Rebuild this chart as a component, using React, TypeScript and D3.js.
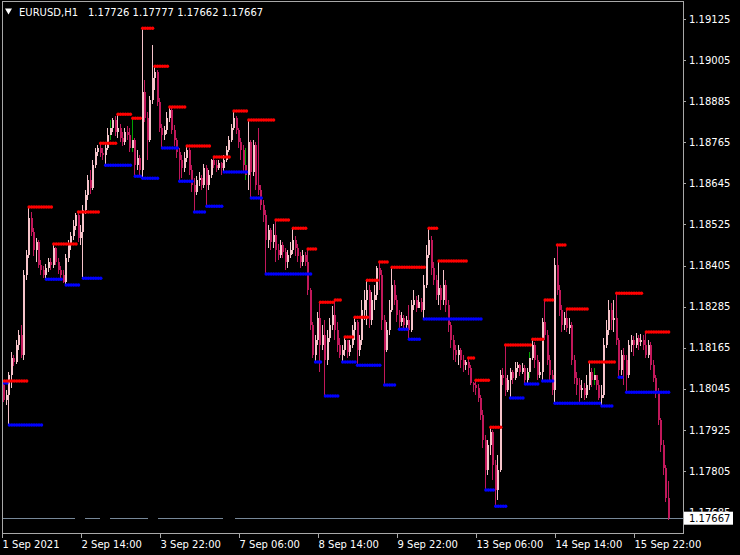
import React from "react";
import * as d3 from "d3";

// EURUSD H1 candles, 1 Sep 07:00 .. 16 Sep 12:00 (270 bars); open = previous close
const SYMBOL = "EURUSD,H1";
const LAST_OHLC = ["1.17726", "1.17777", "1.17662", "1.17667"];
const FIRST_OPEN = 1.18056;
const BID = 1.17667;

const closes = [
  1.18012, 1.18027, 1.18085, 1.18135, 1.18123, 1.18173, 1.18202, 1.18143, 1.18377, 1.18435,
  1.18543, 1.18503, 1.1845, 1.18473, 1.18406, 1.18392, 1.18377, 1.18397, 1.18415, 1.18406,
  1.18456, 1.18415, 1.18392, 1.18377, 1.18357, 1.18427, 1.18465, 1.18491, 1.1852, 1.18552,
  1.18485, 1.18503, 1.18567, 1.18611, 1.18654, 1.18631, 1.18698, 1.18736, 1.18748, 1.18733,
  1.18727, 1.18748, 1.18786, 1.18806, 1.1883, 1.18795, 1.18806, 1.18777, 1.18765, 1.18795,
  1.18786, 1.18748, 1.18771, 1.18698, 1.18719, 1.18684, 1.18911, 1.18835, 1.18771, 1.18888,
  1.18952, 1.1897, 1.18882, 1.18806, 1.18786, 1.188, 1.18835, 1.18859, 1.188, 1.18771,
  1.18736, 1.18713, 1.18689, 1.18719, 1.18742, 1.18684, 1.1864, 1.18619, 1.18654, 1.1866,
  1.1864, 1.18689, 1.1864, 1.18669, 1.18713, 1.18698, 1.18689, 1.18704, 1.18689, 1.18713,
  1.18742, 1.18771, 1.18806, 1.18835, 1.188, 1.18765, 1.18742, 1.18698, 1.18669, 1.18765,
  1.18678, 1.18757, 1.1864, 1.18625, 1.18581, 1.18552, 1.18479, 1.18508, 1.18473, 1.18494,
  1.1845, 1.18435, 1.18465, 1.18444, 1.18415, 1.18435, 1.1845, 1.18479, 1.18456, 1.18433,
  1.18415, 1.18435, 1.18415, 1.18333, 1.18231, 1.18143, 1.18187, 1.18251, 1.18173, 1.18202,
  1.18129, 1.18193, 1.18231, 1.1826, 1.18216, 1.18173, 1.18143, 1.18158, 1.18187, 1.18152,
  1.18173, 1.18216, 1.1824, 1.18158, 1.18187, 1.18275, 1.18304, 1.18333, 1.18246, 1.18304,
  1.18319, 1.18397, 1.18377, 1.18246, 1.18158, 1.18216, 1.18275, 1.18348, 1.18304, 1.1826,
  1.1824, 1.18251, 1.18231, 1.18246, 1.18216, 1.18289, 1.18304, 1.18281, 1.18298, 1.18275,
  1.18348, 1.18435, 1.18479, 1.18397, 1.18362, 1.18319, 1.18339, 1.18304, 1.18348, 1.18289,
  1.18231, 1.18187, 1.18158, 1.18143, 1.18158, 1.18129, 1.18114, 1.18123, 1.18105, 1.18062,
  1.18056, 1.18047, 1.18018, 1.17968, 1.17895, 1.17808, 1.17881, 1.17919, 1.17822, 1.17749,
  1.17808, 1.18085, 1.18076, 1.18041, 1.1807, 1.18094, 1.18076, 1.18105, 1.18114, 1.18094,
  1.18105, 1.1807, 1.18094, 1.18135, 1.18173, 1.18129, 1.18085, 1.18094, 1.1824, 1.18202,
  1.18129, 1.18085, 1.18041, 1.18406, 1.18333, 1.18275, 1.18231, 1.18251, 1.18222, 1.18231,
  1.18129, 1.18076, 1.18056, 1.18041, 1.18047, 1.18027, 1.18056, 1.18094, 1.1807, 1.18085,
  1.18056, 1.18018, 1.18027, 1.18173, 1.18216, 1.18275, 1.18246, 1.18251, 1.18187, 1.181,
  1.18143, 1.18129, 1.18085, 1.18173, 1.18187, 1.18173, 1.18193, 1.18181, 1.18187, 1.18173,
  1.18143, 1.18173, 1.18114, 1.18076, 1.18035, 1.17954, 1.17881, 1.17813, 1.17726, 1.17667,
];

const highs = [
  1.18068, 1.18041, 1.18094, 1.18152, 1.18143, 1.18187, 1.18216, 1.18231, 1.18392, 1.1845,
  1.18576, 1.18561, 1.18514, 1.18485, 1.18479, 1.18421, 1.18403, 1.18409, 1.18427, 1.18427,
  1.18468, 1.1846, 1.18427, 1.18403, 1.18392, 1.18438, 1.18479, 1.18503, 1.18538, 1.18558,
  1.18561, 1.18523, 1.18581, 1.18625, 1.18669, 1.18684, 1.18713, 1.18748, 1.18757, 1.18762,
  1.18748, 1.1876, 1.18806, 1.1883, 1.18835, 1.18841, 1.18847, 1.18818, 1.18795, 1.18806,
  1.18812, 1.18806, 1.18835, 1.18777, 1.18742, 1.18727, 1.19098, 1.18946, 1.18853, 1.189,
  1.19049, 1.18987, 1.18976, 1.18894, 1.18818, 1.18812, 1.18853, 1.18868, 1.18865, 1.18815,
  1.18777, 1.18748, 1.18727, 1.18736, 1.18754, 1.18748, 1.18698, 1.1866, 1.18666, 1.18678,
  1.18669, 1.18701, 1.18698, 1.18684, 1.18716, 1.18722, 1.18713, 1.18713, 1.18707, 1.18727,
  1.18754, 1.18783, 1.18818, 1.18856, 1.18841, 1.18806, 1.18777, 1.18757, 1.18748, 1.1883,
  1.18771, 1.18771, 1.18765, 1.18806, 1.1864, 1.18596, 1.18567, 1.18523, 1.18514, 1.18526,
  1.18538, 1.18468, 1.18479, 1.18473, 1.18456, 1.1845, 1.18473, 1.18514, 1.18491, 1.18468,
  1.18444, 1.1845, 1.18444, 1.18453, 1.18339, 1.1824, 1.18202, 1.18269, 1.18298, 1.18231,
  1.18246, 1.18216, 1.18251, 1.18286, 1.18304, 1.1824, 1.18193, 1.18173, 1.18196, 1.18187,
  1.18187, 1.18231, 1.18254, 1.18246, 1.18202, 1.18304, 1.18333, 1.18362, 1.18348, 1.18327,
  1.18348, 1.18403, 1.18415, 1.18392, 1.1826, 1.1824, 1.18304, 1.184, 1.18362, 1.18319,
  1.18275, 1.18269, 1.1826, 1.18257, 1.18289, 1.18304, 1.18333, 1.18316, 1.18319, 1.1831,
  1.18377, 1.18465, 1.18514, 1.18491, 1.18415, 1.18377, 1.18418, 1.18348, 1.18392, 1.18362,
  1.18304, 1.1824, 1.18202, 1.18173, 1.18173, 1.18164, 1.18143, 1.18129, 1.18135, 1.18114,
  1.18065, 1.1807, 1.18059, 1.18027, 1.17983, 1.1791, 1.17895, 1.17933, 1.17924, 1.17837,
  1.17851, 1.181, 1.18105, 1.18173, 1.18085, 1.18105, 1.181, 1.18123, 1.18123, 1.18117,
  1.1812, 1.18114, 1.18105, 1.18152, 1.1819, 1.18181, 1.18143, 1.18123, 1.18251, 1.18304,
  1.18216, 1.18143, 1.181, 1.18427, 1.18465, 1.18348, 1.18289, 1.18269, 1.18278, 1.18251,
  1.1824, 1.18143, 1.18094, 1.18076, 1.1807, 1.18062, 1.18085, 1.18123, 1.18105, 1.18105,
  1.18085, 1.1807, 1.18056, 1.18193, 1.18246, 1.18304, 1.18295, 1.18304, 1.18324, 1.18193,
  1.18158, 1.18164, 1.18143, 1.18187, 1.18202, 1.18199, 1.18208, 1.18202, 1.18205, 1.18202,
  1.18211, 1.18187, 1.18181, 1.18129, 1.18085, 1.18047, 1.17959, 1.17895, 1.17822, 1.17777,
];

const lows = [
  1.18006, 1.17997, 1.17939, 1.18047, 1.18111, 1.18117, 1.18158, 1.18135, 1.18129, 1.18362,
  1.18427, 1.18491, 1.18433, 1.18415, 1.18397, 1.18377, 1.18368, 1.18365, 1.18386, 1.18392,
  1.18397, 1.18406, 1.1838, 1.18365, 1.18354, 1.18348, 1.18415, 1.1845, 1.18479, 1.18508,
  1.18473, 1.18465, 1.18368, 1.18555, 1.18596, 1.18614, 1.18625, 1.18689, 1.18724, 1.18722,
  1.18713, 1.18698, 1.18742, 1.18771, 1.18795, 1.18783, 1.18777, 1.18765, 1.18754, 1.18757,
  1.18771, 1.18736, 1.18736, 1.18666, 1.18684, 1.18666, 1.1866, 1.18824, 1.18713, 1.18765,
  1.18876, 1.18917, 1.1887, 1.18795, 1.18748, 1.18771, 1.18789, 1.18824, 1.18789, 1.18754,
  1.18719, 1.18651, 1.1866, 1.18678, 1.18707, 1.18669, 1.18619, 1.18561, 1.18611, 1.18637,
  1.18625, 1.18631, 1.18578, 1.18625, 1.1866, 1.18689, 1.18678, 1.18684, 1.18669, 1.18678,
  1.18707, 1.18736, 1.18765, 1.188, 1.18789, 1.18748, 1.18713, 1.18678, 1.18654, 1.18625,
  1.18602, 1.18666, 1.18625, 1.18611, 1.18567, 1.18532, 1.1838, 1.18456, 1.1845, 1.18456,
  1.18415, 1.18421, 1.18427, 1.18427, 1.18392, 1.18397, 1.18427, 1.18438, 1.18433, 1.18415,
  1.18397, 1.18403, 1.18403, 1.18319, 1.18216, 1.18135, 1.18123, 1.18173, 1.18094, 1.18158,
  1.18024, 1.18114, 1.18181, 1.18216, 1.18187, 1.18152, 1.18135, 1.18123, 1.1814, 1.18135,
  1.1814, 1.18164, 1.18187, 1.18114, 1.1814, 1.18173, 1.18246, 1.18231, 1.18222, 1.18231,
  1.18275, 1.18304, 1.18333, 1.18216, 1.18056, 1.18152, 1.18202, 1.18269, 1.18289, 1.1824,
  1.18219, 1.18228, 1.18222, 1.18216, 1.1819, 1.18211, 1.18275, 1.18269, 1.18281, 1.18269,
  1.18249, 1.18339, 1.18427, 1.18377, 1.18348, 1.18304, 1.18289, 1.18275, 1.18289, 1.18269,
  1.18211, 1.18164, 1.18129, 1.18123, 1.18114, 1.18105, 1.18094, 1.181, 1.18085, 1.18056,
  1.18035, 1.18027, 1.18006, 1.17954, 1.17872, 1.17749, 1.17793, 1.17851, 1.17778, 1.17702,
  1.1772, 1.17802, 1.18056, 1.18024, 1.18035, 1.18018, 1.18059, 1.1807, 1.18094, 1.18082,
  1.18088, 1.18059, 1.18062, 1.18076, 1.18129, 1.18105, 1.1807, 1.18076, 1.18068, 1.18187,
  1.18114, 1.18065, 1.18027, 1.18003, 1.18319, 1.18257, 1.18211, 1.18216, 1.18211, 1.18205,
  1.18114, 1.18059, 1.18027, 1.18003, 1.18018, 1.18012, 1.18018, 1.18041, 1.1805, 1.18056,
  1.18041, 1.18012, 1.17995, 1.18018, 1.18164, 1.18202, 1.18216, 1.18211, 1.18173, 1.18079,
  1.18085, 1.18056, 1.18035, 1.18076, 1.18152, 1.1814, 1.18164, 1.18158, 1.1817, 1.18158,
  1.18135, 1.18135, 1.181, 1.18065, 1.18018, 1.17939, 1.1786, 1.17793, 1.17714, 1.17662,
];

// Fractal levels: [first bar, last bar, price]
const resistance: [number, number, number][] = [
  [0, 9, 1.18068], [10, 19, 1.18576], [20, 29, 1.18468], [30, 38, 1.18561], [39, 45, 1.18762],
  [46, 51, 1.18847], [52, 55, 1.18835], [56, 60, 1.19098], [61, 66, 1.18987], [67, 73, 1.18868],
  [74, 83, 1.18754], [85, 91, 1.18722], [93, 98, 1.18856], [99, 109, 1.1883], [110, 115, 1.18538],
  [117, 122, 1.18514], [123, 126, 1.18453], [128, 133, 1.18298], [134, 136, 1.18304], [138, 141, 1.18196],
  [142, 147, 1.18254], [147, 151, 1.18362], [152, 155, 1.18415], [157, 170, 1.184], [172, 175, 1.18514],
  [176, 187, 1.18418], [188, 190, 1.18135], [191, 196, 1.1807], [197, 201, 1.17933], [203, 213, 1.18173],
  [214, 218, 1.1819], [219, 222, 1.18304], [224, 227, 1.18465], [228, 236, 1.18278], [237, 247, 1.18123],
  [248, 258, 1.18324], [260, 269, 1.18211],
];

const support: [number, number, number][] = [
  [0, 1, 1.18062], [2, 15, 1.17939], [17, 23, 1.18365], [25, 30, 1.18348], [32, 39, 1.18368],
  [41, 51, 1.18698], [53, 55, 1.18666], [56, 62, 1.1866], [64, 70, 1.18748], [71, 76, 1.18651],
  [77, 81, 1.18561], [82, 88, 1.18578], [89, 98, 1.18678], [100, 104, 1.18602], [106, 124, 1.1838],
  [126, 128, 1.18123], [130, 135, 1.18024], [137, 142, 1.18123], [143, 152, 1.18114], [154, 158, 1.18056],
  [160, 163, 1.18219], [164, 168, 1.1819], [170, 193, 1.18249], [195, 198, 1.17749], [199, 203, 1.17702],
  [205, 210, 1.18018], [211, 216, 1.18059], [218, 222, 1.18068], [223, 241, 1.18003], [242, 246, 1.17995],
  [249, 250, 1.18079], [252, 269, 1.18035],
];

const greenWickBars = [43, 52, 98, 213, 239];

const priceTicks = [
  1.19125, 1.19005, 1.18885, 1.18765, 1.18645, 1.18525, 1.18405,
  1.18285, 1.18165, 1.18045, 1.17925, 1.17805, 1.17685,
];

const timeLabels = [
  "1 Sep 2021", "2 Sep 14:00", "3 Sep 22:00", "7 Sep 06:00", "8 Sep 14:00",
  "9 Sep 22:00", "13 Sep 06:00", "14 Sep 14:00", "15 Sep 22:00",
];
const timeLabelBars = [-1, 31, 63, 95, 127, 159, 191, 223, 255];

const W = 740;
const H = 555;
const LEFT = 2;
const RIGHT = 683;
const TOP = 2;
const BOTTOM = 534;
const FONT = "DejaVu Sans";
const BULL = "#f6c4ca";
const BEAR = "#c2185b";
const FRAME = "#a8a8a8";

// bid line is broken in a few places on the left side
const bidSegments: [number, number][] = [[LEFT, 75], [85, 100], [110, 148], [158, 223], [235, RIGHT]];

export default function App() {
  const n = closes.length;
  const x = d3.scaleLinear().domain([0, n - 1]).range([4.46, 4.46 + (n - 1) * 2.469]);
  const y = d3.scaleLinear().domain([1.17667, 1.19125]).range([518.2, 19]);
  const opens = closes.map((_, i) => (i === 0 ? FIRST_OPEN : closes[i - 1]));

  const candles = closes.map((c, i) => {
    const o = opens[i];
    const bull = c >= o;
    const cx = Math.round(x(i));
    const top = y(Math.max(o, c));
    const bot = y(Math.min(o, c));
    const col = bull ? BULL : BEAR;
    const wickCol = greenWickBars.includes(i) ? "#00a000" : col;
    return (
      <g key={i}>
        <rect x={cx - 1} y={y(highs[i])} width={1} height={Math.max(1, y(lows[i]) - y(highs[i]))} fill={wickCol} />
        <rect x={cx - 1} y={top} width={2} height={Math.max(1, bot - top)} fill={col} />
      </g>
    );
  });

  const levels = (list: [number, number, number][], color: string, key: string) =>
    list.map(([a, b, p], k) => {
      const yy = y(p);
      const idx = d3.range(a, b + 1);
      return (
        <g key={key + k}>
          <line x1={x(a)} x2={x(b)} y1={yy} y2={yy} stroke={color} strokeWidth={1} />
          {idx.map((i) => (
            <circle key={i} cx={x(i)} cy={yy} r={1.75} fill={color} />
          ))}
        </g>
      );
    });

  const bidY = y(BID);

  return (
    <svg
      width={W}
      height={H}
      style={{ position: "absolute", left: 0, top: 0, display: "block" }}
      fontFamily={FONT}
      fontSize={10}
    >
      <defs>
        <clipPath id="aboveBidBox">
          <rect x={684} y={0} width={56} height={bidY - 6.5} />
        </clipPath>
      </defs>
      <rect x={0} y={0} width={W} height={H} fill="#000" />

      {/* bid line */}
      {bidSegments.map(([a, b], k) => (
        <line key={k} x1={a} x2={b} y1={bidY} y2={bidY} stroke="#778899" strokeWidth={1} shapeRendering="crispEdges" />
      ))}

      <g shapeRendering="crispEdges">{candles}</g>

      {levels(support, "#0000ff", "s")}
      {levels(resistance, "#ff0000", "r")}

      {/* frame */}
      <rect x={LEFT + 0.5} y={TOP - 0.5} width={RIGHT - LEFT} height={BOTTOM - TOP} fill="none" stroke={FRAME} strokeWidth={1} shapeRendering="crispEdges" />

      {/* price axis; the lowest label sits partly under the bid box */}
      {priceTicks.map((p, k) => (
        <g key={p}>
          <line x1={RIGHT} x2={RIGHT + 3} y1={Math.round(y(p)) + 0.5} y2={Math.round(y(p)) + 0.5} stroke={FRAME} />
          <text
            x={689}
            y={y(p) + 3.7}
            fill="#fff"
            clipPath={k === priceTicks.length - 1 ? "url(#aboveBidBox)" : undefined}
          >
            {p.toFixed(5)}
          </text>
        </g>
      ))}
      <rect x={684} y={bidY - 6.5} width={49} height={13} fill="#fff" />
      <text x={689} y={bidY + 3.7} fill="#000">{BID.toFixed(5)}</text>

      {/* time axis */}
      {timeLabels.map((t, k) => {
        const tx = Math.round(x(timeLabelBars[k])) + 0.5;
        return (
          <g key={t}>
            <line x1={tx} x2={tx} y1={BOTTOM} y2={BOTTOM + 4} stroke={FRAME} />
            <text x={tx} y={548} fill="#fff">{t}</text>
          </g>
        );
      })}

      {/* title */}
      <path d="M5,8.5 L12,8.5 L8.5,14.5 Z" fill="#fff" />
      <text x={19} y={15.5} fill="#fff">{SYMBOL}</text>
      {LAST_OHLC.map((v, k) => (
        <text key={k} x={88 + k * 44.6} y={15.5} fill="#fff">{v}</text>
      ))}
    </svg>
  );
}
